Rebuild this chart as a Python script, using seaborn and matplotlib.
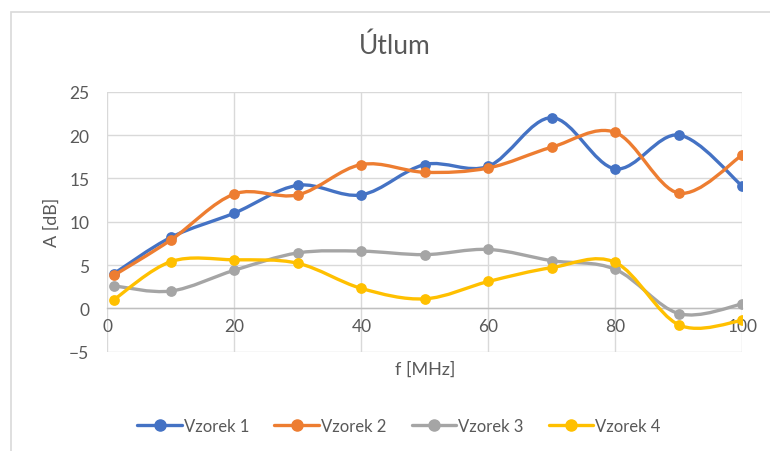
import matplotlib
matplotlib.use("Agg")
import matplotlib.pyplot as plt
from matplotlib.path import Path
from matplotlib.patches import PathPatch, Rectangle
from matplotlib.lines import Line2D
import numpy as np
import pandas as pd
import seaborn as sns

f_mhz = [1, 10, 20, 30, 40, 50, 60, 70, 80, 90, 100]
vzorek1 = [4.0, 8.2, 11.0, 14.2, 13.1, 16.6, 16.4, 22.0, 16.1, 20.0, 14.1]
vzorek2 = [3.8, 7.9, 13.2, 13.1, 16.6, 15.7, 16.2, 18.6, 20.3, 13.3, 17.7]
vzorek3 = [2.6, 2.0, 4.4, 6.4, 6.6, 6.2, 6.8, 5.5, 4.5, -0.6, 0.5]
vzorek4 = [1.0, 5.4, 5.6, 5.2, 2.3, 1.1, 3.1, 4.7, 5.3, -1.9, -1.4]
names = ["Vzorek 1", "Vzorek 2", "Vzorek 3", "Vzorek 4"]
colors = ["#4472C4", "#ED7D31", "#A5A5A5", "#FFC000"]

series = [vzorek1, vzorek2, vzorek3, vzorek4]
df = pd.concat([pd.DataFrame({"f": f_mhz, "A": s, "vzorek": n})
                for s, n in zip(series, names)], ignore_index=True)

sns.set_theme(style="white")
plt.rcParams["font.family"] = ["Lato", "DejaVu Sans"]
txt = "#595959"


def smooth_path(x, y):
    # Excel-like smoothed line: cubic Bezier, Catmull-Rom control points
    p = np.column_stack([x, y]).astype(float)
    n = len(p)
    verts = [p[0]]
    codes = [Path.MOVETO]
    for i in range(n - 1):
        p0 = p[i - 1] if i > 0 else p[i]
        p1, p2 = p[i], p[i + 1]
        p3 = p[i + 2] if i + 2 < n else p[i + 1]
        verts += [p1 + (p2 - p0) / 6, p2 - (p3 - p1) / 6, p2]
        codes += [Path.CURVE4] * 3
    return Path(verts, codes)


fig = plt.figure(figsize=(7.7, 4.52), dpi=100)
ax = fig.add_axes([0.1396, 0.2197, 0.8244, 0.5752])

for k, (name, col) in enumerate(zip(names, colors)):
    sub = df[df["vzorek"] == name]
    ax.add_patch(PathPatch(smooth_path(sub["f"], sub["A"]), fill=False,
                           edgecolor=col, lw=2.4, zorder=3 + 2 * k,
                           capstyle="round", joinstyle="round"))
    sns.scatterplot(data=sub, x="f", y="A", color=col, s=60, edgecolor=col,
                    linewidth=0, ax=ax, zorder=4 + 2 * k, legend=False)

ax.set_xlim(0, 100)
ax.set_ylim(-5, 25)
ax.set_xticks(range(0, 101, 20))
ax.set_yticks(range(-5, 26, 5))
ax.grid(True, color="#D9D9D9", lw=1)
for s in ["left", "right", "top"]:
    ax.spines[s].set_visible(False)
ax.spines["bottom"].set_position(("data", 0))
ax.spines["bottom"].set_color("#BFBFBF")
ax.spines["bottom"].set_linewidth(1)
ax.spines["bottom"].set_zorder(2)
ax.tick_params(axis="y", length=0, pad=13, labelsize=12.5, labelcolor=txt)
ax.tick_params(axis="x", length=0, pad=7, labelsize=12.5, labelcolor=txt)

ax.set_xlabel("f [MHz]", fontsize=13, color=txt)
ax.set_ylabel("A [dB]", fontsize=13, color=txt)
ax.xaxis.set_label_coords(0.5, -0.035)
ax.yaxis.set_label_coords(-0.075, 0.5)

fig.text(395 / 770, 1 - 46 / 452, "Útlum", ha="center", va="center",
         fontsize=19, color=txt)

handles = [Line2D([0], [0], color=c, lw=2.4, marker="o", markersize=8)
           for c in colors]
fig.legend(handles, names, loc="center", bbox_to_anchor=(399 / 770, 1 - 427 / 452),
           ncol=4, frameon=False, fontsize=12, labelcolor=txt,
           handlelength=2.65, handletextpad=0.15, columnspacing=1.5)

fig.add_artist(Rectangle((11 / 770, -0.1), 1.0, 1.1 - 13 / 452,
                         transform=fig.transFigure, fill=False,
                         edgecolor="#D9D9D9", lw=1.2))

fig.savefig("out.png", dpi=100)
